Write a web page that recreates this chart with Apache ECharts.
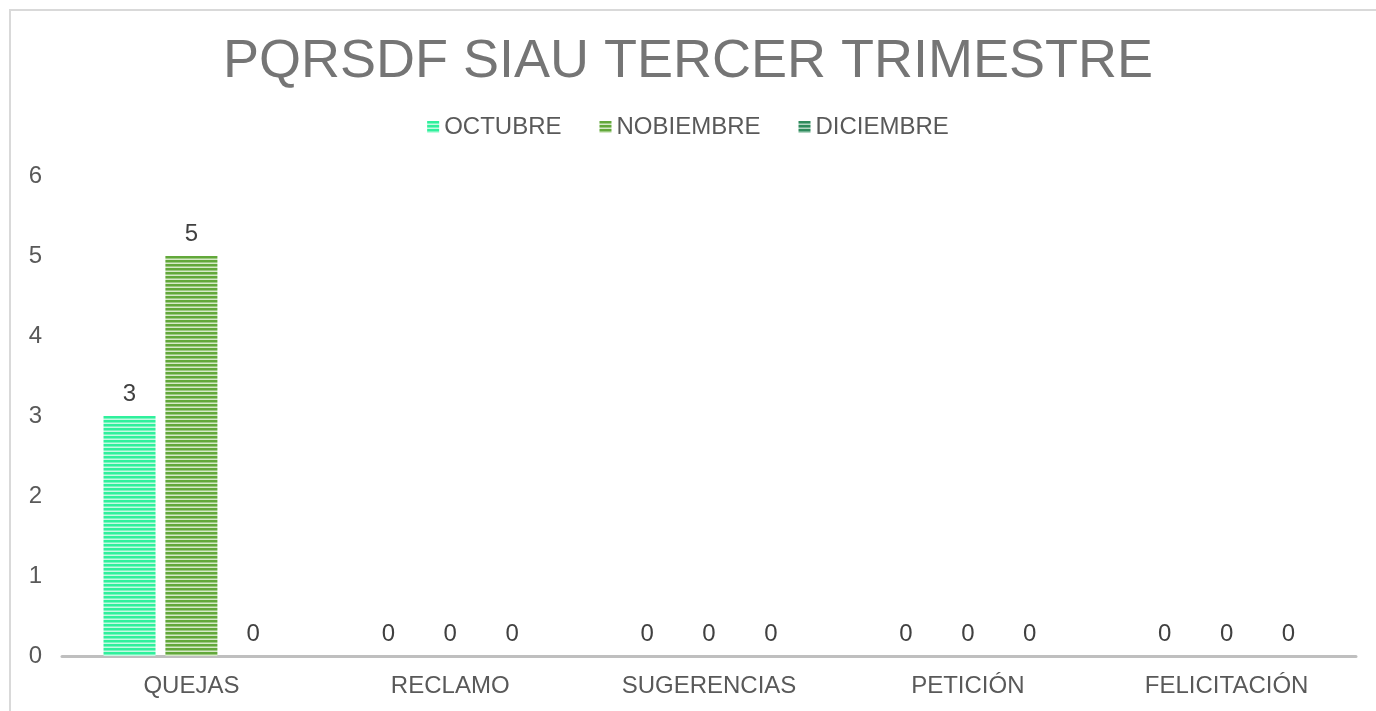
<!DOCTYPE html>
<html>
<head>
<meta charset="utf-8">
<script src="https://cdn.jsdelivr.net/npm/echarts@6/dist/echarts.min.js"></script>
<style>
html,body{margin:0;padding:0;background:#fff;}
#chart{width:1376px;height:711px;}
</style>
</head>
<body>
<div id="chart"></div>
<script>
var categories = ['QUEJAS', 'RECLAMO', 'SUGERENCIAS', 'PETICIÓN', 'FELICITACIÓN'];
var seriesNames = ['OCTUBRE', 'NOBIEMBRE', 'DICIEMBRE'];
var octubre = [3, 0, 0, 0, 0];
var nobiembre = [5, 0, 0, 0, 0];
var diciembre = [0, 0, 0, 0, 0];
var yTicks = [0, 1, 2, 3, 4, 5, 6];

//rayas horizontales como en excel
function stripe(color, light){
	var c = document.createElement('canvas');
	c.width = 4; c.height = 4;
	var ctx = c.getContext('2d');
	ctx.fillStyle = color;
	ctx.fillRect(0, 0, 4, 4);
	ctx.fillStyle = light;
	ctx.fillRect(0, 3, 4, 1);
	ctx.globalAlpha = 0.5;
	ctx.fillRect(0, 2, 4, 1);
	return {image: c, repeat: 'repeat'};
}

var colors = [
	stripe('#2ff09c', '#c4fae2'),
	stripe('#62a83a', '#d6e9c8'),
	stripe('#2e8b5c', '#b2d6c3')
];
var fontFam = '"Liberation Sans", Arial, sans-serif';

var myChart = echarts.init(document.getElementById('chart'));
var labelStyle = {
	show: true,
	position: 'top',
	distance: 10,
	color: '#404040',
	fontSize: 24,
	fontFamily: fontFam
};
var options = {
	animation: false,
	backgroundColor: '#fff',
	graphic: [{
		type: 'rect',
		shape: {x: 10, y: 10, width: 1380, height: 720},
		style: {fill: 'none', stroke: '#d9d9d9', lineWidth: 2},
		silent: true
	}],
	title: {
		text: 'PQRSDF SIAU TERCER TRIMESTRE',
		left: 'center',
		top: 30,
		textStyle: {
			color: '#757575',
			fontSize: 54,
			fontWeight: 'normal',
			fontFamily: fontFam
		}
	},
	legend: {
		data: seriesNames,
		top: 110,
		left: 'center',
		itemWidth: 12,
		itemHeight: 12,
		itemGap: 38,
		icon: 'rect',
		textStyle: {
			color: '#595959',
			fontSize: 24,
			fontFamily: fontFam
		}
	},
	grid: {
		left: 62,
		right: 20,
		top: 176,
		bottom: 55,
		containLabel: false
	},
	xAxis: {
		type: 'category',
		data: categories,
		axisLine: {lineStyle: {color: '#bfbfbf', width: 3}},
		axisTick: {show: false},
		axisLabel: {
			color: '#595959',
			fontSize: 24,
			fontFamily: fontFam,
			margin: 18
		}
	},
	yAxis: {
		type: 'value',
		min: yTicks[0],
		max: yTicks[yTicks.length - 1],
		interval: 1,
		axisLine: {show: false},
		axisTick: {show: false},
		splitLine: {show: false},
		axisLabel: {
			color: '#595959',
			fontSize: 24,
			fontFamily: fontFam,
			margin: 20
		}
	},
	series: [
		{name: seriesNames[0], type: 'bar', data: octubre, barWidth: 52, barGap: '19%', barCategoryGap: '32%',
			itemStyle: {color: colors[0]}, label: labelStyle},
		{name: seriesNames[1], type: 'bar', data: nobiembre, barWidth: 52,
			itemStyle: {color: colors[1]}, label: labelStyle},
		{name: seriesNames[2], type: 'bar', data: diciembre, barWidth: 52,
			itemStyle: {color: colors[2]}, label: labelStyle}
	]
};
myChart.setOption(options);
</script>
</body>
</html>
